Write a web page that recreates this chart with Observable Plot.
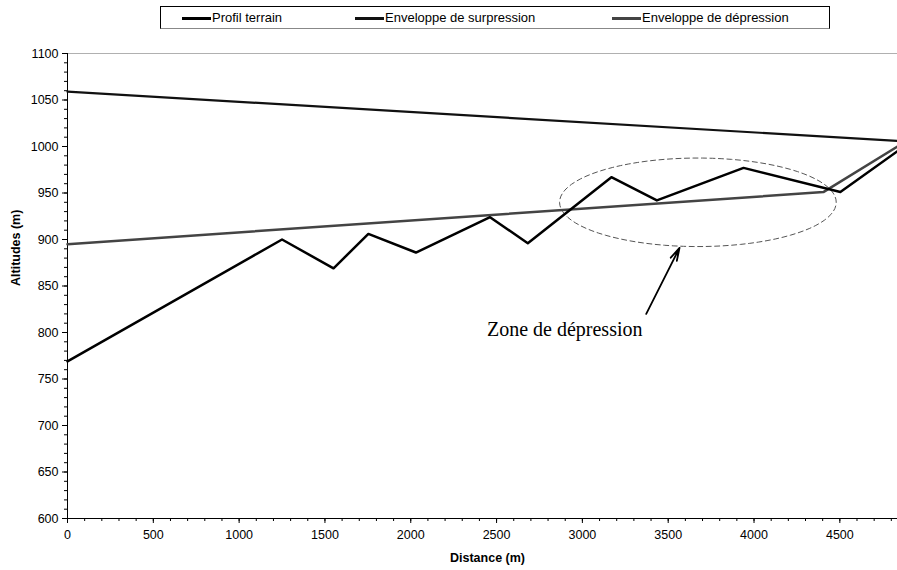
<!DOCTYPE html>
<html>
<head>
<meta charset="utf-8">
<script src="https://cdn.jsdelivr.net/npm/d3@7"></script>
<script src="https://cdn.jsdelivr.net/npm/@observablehq/plot@0.6"></script>
<style>
  body { margin: 0; background: white; font-family: "Liberation Sans", Arial, sans-serif; }
  #legend { position: relative; width: 897px; height: 36px; }
  #legend .box { position: absolute; left: 160px; top: 6px; width: 670px; height: 23px; border: 1px solid #000; border-bottom-color: #888; box-sizing: border-box; }
  #legend .sw { position: absolute; top: 17px; height: 3px; }
  #legend .lb { position: absolute; top: 10px; font-size: 13px; line-height: 16px; color: #000; white-space: nowrap; }
</style>
</head>
<body>
<div id="legend"></div>
<div id="chart"></div>
<script>
// Profil terrain
const terrainDist = [0, 1250, 1550, 1753, 2030, 2462, 2682, 3169, 3434, 3939, 4503, 4836];
const terrainAlt  = [769, 900, 869, 906, 886, 924, 896, 967, 942, 977, 951, 995];
// Enveloppe de surpression
const surDist = [0, 4836];
const surAlt  = [1059, 1006];
// Enveloppe de dépression
const depDist = [0, 4404, 4836];
const depAlt  = [895, 951, 1000];
// Legend / labels
const seriesNames = ["Profil terrain", "Enveloppe de surpression", "Enveloppe de dépression"];
const seriesColors = ["#000000", "#111111", "#444444"];
const xTicks = [0, 500, 1000, 1500, 2000, 2500, 3000, 3500, 4000, 4500];
const yTicks = [600, 650, 700, 750, 800, 850, 900, 950, 1000, 1050, 1100];
// Annotation: zone ellipse (center, radii in data units) and arrow
const zoneCenter = [3673, 940];
const zoneRadii = [806, 47.6];
const arrowFrom = [3372, 820];
const arrowTo = [3566, 891];
const zoneLabel = "Zone de dépression";
const zoneLabelPos = [2444, 796];

const terrain = terrainDist.map((d, i) => ({x: d, y: terrainAlt[i]}));
const sur = surDist.map((d, i) => ({x: d, y: surAlt[i]}));
const dep = depDist.map((d, i) => ({x: d, y: depAlt[i]}));
const ellipse = d3.range(0, 360, 4).map(a => {
  const t = a * Math.PI / 180;
  return {x: zoneCenter[0] + zoneRadii[0] * Math.cos(t), y: zoneCenter[1] + zoneRadii[1] * Math.sin(t)};
});
const xMinor = d3.range(0, 4837, 100);
const yMinor = d3.range(600, 1101, 10);

// Legend
const legend = document.getElementById("legend");
legend.innerHTML = '<div class="box"></div>';
const swatchX = [182, 355, 612];
seriesNames.forEach((name, i) => {
  const sw = document.createElement("div");
  sw.className = "sw";
  sw.style.left = swatchX[i] + "px";
  sw.style.width = "29px";
  sw.style.background = seriesColors[i];
  legend.appendChild(sw);
  const lb = document.createElement("div");
  lb.className = "lb";
  lb.style.left = (swatchX[i] + 30) + "px";
  lb.textContent = name;
  legend.appendChild(lb);
});

const chart = Plot.plot({
  width: 897,
  height: 534,
  marginLeft: 67,
  marginRight: 0,
  marginTop: 17,
  marginBottom: 52,
  style: {fontFamily: "'Liberation Sans', Arial, sans-serif", fontSize: "12.5px", background: "white", overflow: "visible"},
  x: {domain: [0, 4836]},
  y: {domain: [600, 1100]},
  marks: [
    Plot.ruleY([1100], {stroke: "#b0b0b0"}),
    Plot.axisX({ticks: xMinor, tickSize: 3, tickFormat: () => "", label: null, stroke: "#000"}),
    Plot.axisX({ticks: xTicks, tickSize: 5, tickPadding: 7, tickFormat: d => String(d), label: null, fill: "#000"}),
    Plot.axisY({ticks: yMinor, tickSize: 3, tickFormat: () => "", label: null}),
    Plot.axisY({ticks: yTicks, tickSize: 5, tickPadding: 4, tickFormat: d => String(d), label: null, fill: "#000"}),
    Plot.ruleX([0], {stroke: "#000"}),
    Plot.ruleY([600], {stroke: "#000"}),
    Plot.line(ellipse, {x: "x", y: "y", curve: "linear-closed", stroke: "#555", strokeWidth: 1, strokeDasharray: "5,3.5"}),
    Plot.line(sur, {x: "x", y: "y", stroke: seriesColors[1], strokeWidth: 2.2}),
    Plot.line(dep, {x: "x", y: "y", stroke: seriesColors[2], strokeWidth: 2.5}),
    Plot.line(terrain, {x: "x", y: "y", stroke: seriesColors[0], strokeWidth: 2.5}),
    Plot.arrow([0], {x1: () => arrowFrom[0], y1: () => arrowFrom[1], x2: () => arrowTo[0], y2: () => arrowTo[1], stroke: "#000", strokeWidth: 1.8, headLength: 11, headAngle: 30}),
    Plot.text([zoneLabel], {x: () => zoneLabelPos[0], y: () => zoneLabelPos[1], text: d => d, textAnchor: "start", lineAnchor: "bottom", fontFamily: "'Liberation Serif', 'Times New Roman', serif", fontSize: 20, fill: "#000"}),
    Plot.text(["Distance (m)"], {text: d => d, frameAnchor: "bottom", dy: 43, dx: 5, fontWeight: "bold", fontSize: 12.5, fill: "#000"}),
    Plot.text(["Altitudes (m)"], {text: d => d, frameAnchor: "left", dx: -52, rotate: -90, fontWeight: "bold", fontSize: 12.5, fill: "#000"})
  ]
});
document.getElementById("chart").appendChild(chart);
</script>
</body>
</html>
